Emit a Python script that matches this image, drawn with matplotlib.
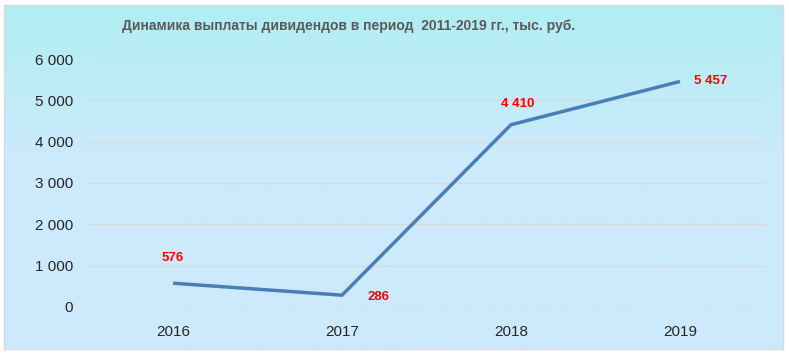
import matplotlib
matplotlib.use("Agg")
import matplotlib.pyplot as plt
import numpy as np

years = ["2016", "2017", "2018", "2019"]
values = [576, 286, 4410, 5457]
labels = ["576", "286", "4 410", "5 457"]
yticks = [0, 1000, 2000, 3000, 4000, 5000, 6000]
ytick_labels = ["0", "1 000", "2 000", "3 000", "4 000", "5 000", "6 000"]
title = "Динамика выплаты дивидендов в период  2011-2019 гг., тыс. руб."

W, H = 789, 354
fig = plt.figure(figsize=(W / 100, H / 100), dpi=100)
fig.patch.set_facecolor("white")

# chart area background gradient
x0, y0, x1, y1 = 4, 5, 783, 349
bg = fig.add_axes([x0 / W, 1 - y1 / H, (x1 - x0) / W, (y1 - y0) / H])
top = np.array([0xB0, 0xEE, 0xF2]) / 255
bot = np.array([0xCC, 0xEA, 0xFC]) / 255
t = np.linspace(0, 1, 256)[:, None]
t = np.clip(t / 0.45, 0, 1)
grad = top[None, :] * (1 - t) + bot[None, :] * t
bg.imshow(grad[:, None, :], aspect="auto", extent=[0, 1, 0, 1])
bg.set_xlim(0, 1); bg.set_ylim(0, 1)
bg.set_xticks([]); bg.set_yticks([])
for s in bg.spines.values():
    s.set_color("#D9D9D9"); s.set_linewidth(1)

# plot axes
px0, px1 = 88.5, 764.5
py_top, py_bot = 59, 307
ax = fig.add_axes([px0 / W, 1 - py_bot / H, (px1 - px0) / W, (py_bot - py_top) / H])
ax.patch.set_alpha(0)
x = np.arange(len(years))
ax.plot(x, values, color="#4A7EBB", lw=2.5, solid_capstyle="butt")
ax.set_xlim(-0.5, len(years) - 0.5)
ax.set_ylim(0, 6000)
ax.set_yticks(yticks)
ax.set_yticklabels(ytick_labels)
ax.set_xticks(x)
ax.set_xticklabels(years)
ax.tick_params(length=0, labelsize=11, colors="#262626", pad=0)
ax.tick_params(axis="y", pad=11)
ax.tick_params(axis="x", pad=13)
for s in ax.spines.values():
    s.set_visible(False)
ax.grid(axis="y", color="#D9D9D9", lw=1)
ax.set_axisbelow(True)
for lab in ax.get_xticklabels() + ax.get_yticklabels():
    lab.set_family(["Liberation Sans", "DejaVu Sans"])

# offsets in points: (dx, dy, ha, va)
offsets = [(0, 18, "center", "center"), (18, -1, "left", "center"),
           (5, 15, "center", "center"), (10, 0, "left", "center")]
for xi, v, lab, (dx, dy, ha, va) in zip(x, values, labels, offsets):
    ax.annotate(lab, (xi, v), xytext=(dx, dy), textcoords="offset points",
                ha=ha, va=va, color="#FF0000", fontsize=9.5, fontweight="bold",
                family=["Liberation Sans", "DejaVu Sans"])

fig.text(349 / W, 1 - 26 / H, title, ha="center", va="center", fontsize=10,
         fontweight="bold", color="#595959",
         family=["Liberation Sans Narrow", "Liberation Sans", "DejaVu Sans"])

fig.savefig("out.png", dpi=100)
